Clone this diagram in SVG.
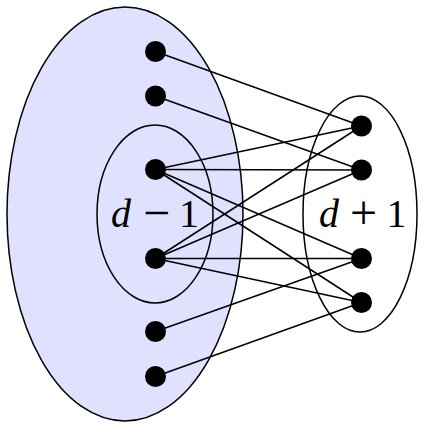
<svg xmlns="http://www.w3.org/2000/svg" width="429" height="429" viewBox="0 0 429 429">
<style>
.ell{stroke:#000;stroke-width:1.5}
.dot{fill:#000}
#edges line{stroke:#000;stroke-width:1.5}
.lbl{font-family:"Liberation Serif",serif;font-size:40px;fill:#000}
.it{font-style:italic}
.op{font-size:48px}
</style>
<rect width="429" height="429" fill="#fff"/>
<g id="setLeft"><ellipse class="ell" cx="125" cy="214" rx="118" ry="207" fill="#e0e0ff"/></g>
<g id="setInner"><ellipse class="ell" cx="155" cy="214" rx="58" ry="89" fill="none"/>
<text class="lbl it" x="121" y="227" text-anchor="middle">d</text>
<text class="lbl op" x="156.5" y="229" text-anchor="middle">−</text>
<text class="lbl" x="189" y="227" text-anchor="middle">1</text></g>
<g id="setRight"><ellipse class="ell" cx="360" cy="214" rx="57" ry="118" fill="none"/>
<text class="lbl it" x="329" y="227" text-anchor="middle">d</text>
<text class="lbl op" x="363.5" y="229" text-anchor="middle">+</text>
<text class="lbl" x="396.5" y="227" text-anchor="middle">1</text></g>
<g id="edges">
<line x1="155.5" y1="51.5" x2="361.5" y2="126"/>
<line x1="155.5" y1="96" x2="361.5" y2="170"/>
<line x1="155.5" y1="169.5" x2="361.5" y2="126"/>
<line x1="155.5" y1="169.5" x2="361.5" y2="170"/>
<line x1="155.5" y1="169.5" x2="361.5" y2="258.5"/>
<line x1="155.5" y1="169.5" x2="361.5" y2="302.5"/>
<line x1="155.5" y1="258.5" x2="361.5" y2="126"/>
<line x1="155.5" y1="258.5" x2="361.5" y2="170"/>
<line x1="155.5" y1="258.5" x2="361.5" y2="258.5"/>
<line x1="155.5" y1="258.5" x2="361.5" y2="302.5"/>
<line x1="155.5" y1="331.5" x2="361.5" y2="258.5"/>
<line x1="155.5" y1="376.5" x2="361.5" y2="302.5"/>
</g>
<g id="L1"><circle class="dot" cx="155.5" cy="51.5" r="10.5"/></g>
<g id="L2"><circle class="dot" cx="155.5" cy="96" r="10.5"/></g>
<g id="L3"><circle class="dot" cx="155.5" cy="169.5" r="10.5"/></g>
<g id="L4"><circle class="dot" cx="155.5" cy="258.5" r="10.5"/></g>
<g id="L5"><circle class="dot" cx="155.5" cy="331.5" r="10.5"/></g>
<g id="L6"><circle class="dot" cx="155.5" cy="376.5" r="10.5"/></g>
<g id="R1"><circle class="dot" cx="361.5" cy="126" r="10.5"/></g>
<g id="R2"><circle class="dot" cx="361.5" cy="170" r="10.5"/></g>
<g id="R3"><circle class="dot" cx="361.5" cy="258.5" r="10.5"/></g>
<g id="R4"><circle class="dot" cx="361.5" cy="302.5" r="10.5"/></g>
</svg>
